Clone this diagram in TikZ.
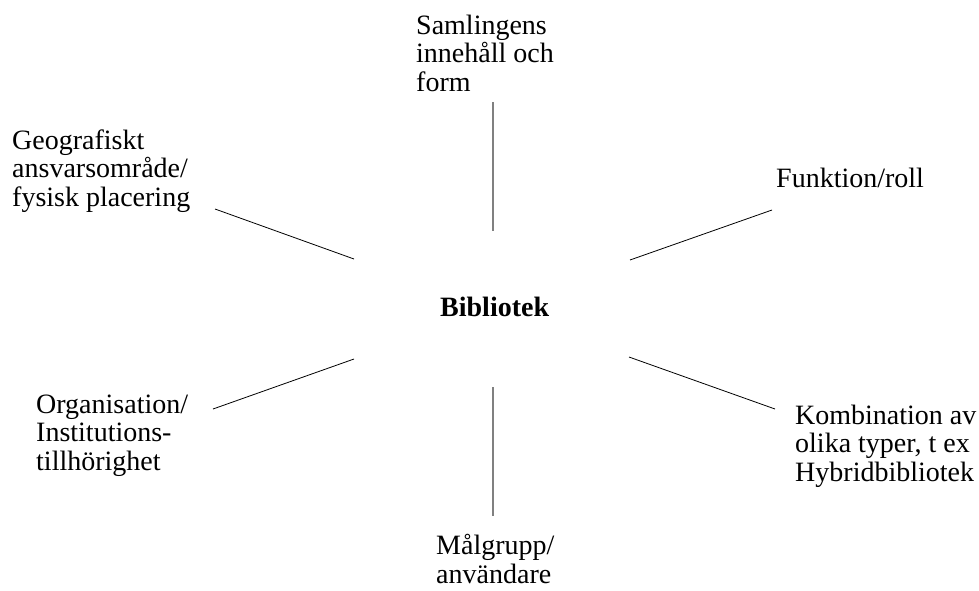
\documentclass[tikz,border=0pt]{standalone}
\usepackage{fontspec}
\setmainfont{Liberation Serif}
\begin{document}
\begin{tikzpicture}[x=1pt,y=-1pt,
  lbl/.style={anchor=base west,inner sep=0pt,align=left,font=\fontsize{28}{28.4}\selectfont},
  spoke/.style={draw=black,line width=0.8pt},
  vspoke/.style={draw=black!50,line width=1.2pt}]
\useasboundingbox (0,0) rectangle (979,590);
\node[lbl] (sam) at (416,91) {Samlingens\\innehåll och\\form};
\node[lbl] (geo) at (12,206) {Geografiskt\\ansvarsområde/\\fysisk placering};
\node[lbl] (fun) at (776,187) {Funktion/roll};
\node[lbl,font=\fontsize{28}{28.4}\selectfont\bfseries] (bib) at (440,316) {Bibliotek};
\node[lbl] (org) at (36,470) {Organisation/\\Institutions-\\tillhörighet};
\node[lbl] (kom) at (795,481) {Kombination av\\olika typer, t ex\\Hybridbibliotek};
\node[lbl] (mal) at (436,583) {Målgrupp/\\användare};
\coordinate (samA) at (493,102); \coordinate (samB) at (493,231);
\coordinate (malA) at (493,387); \coordinate (malB) at (493,516);
\coordinate (geoA) at (215,209); \coordinate (geoB) at (354,259);
\coordinate (funA) at (630,260); \coordinate (funB) at (772,210);
\coordinate (komA) at (629,357); \coordinate (komB) at (775,409);
\coordinate (orgA) at (213,409); \coordinate (orgB) at (354,359);
\draw[vspoke] (samA) -- (samB);
\draw[vspoke] (malA) -- (malB);
\draw[spoke] (geoA) -- (geoB);
\draw[spoke] (funA) -- (funB);
\draw[spoke] (komA) -- (komB);
\draw[spoke] (orgA) -- (orgB);
\end{tikzpicture}
\end{document}
